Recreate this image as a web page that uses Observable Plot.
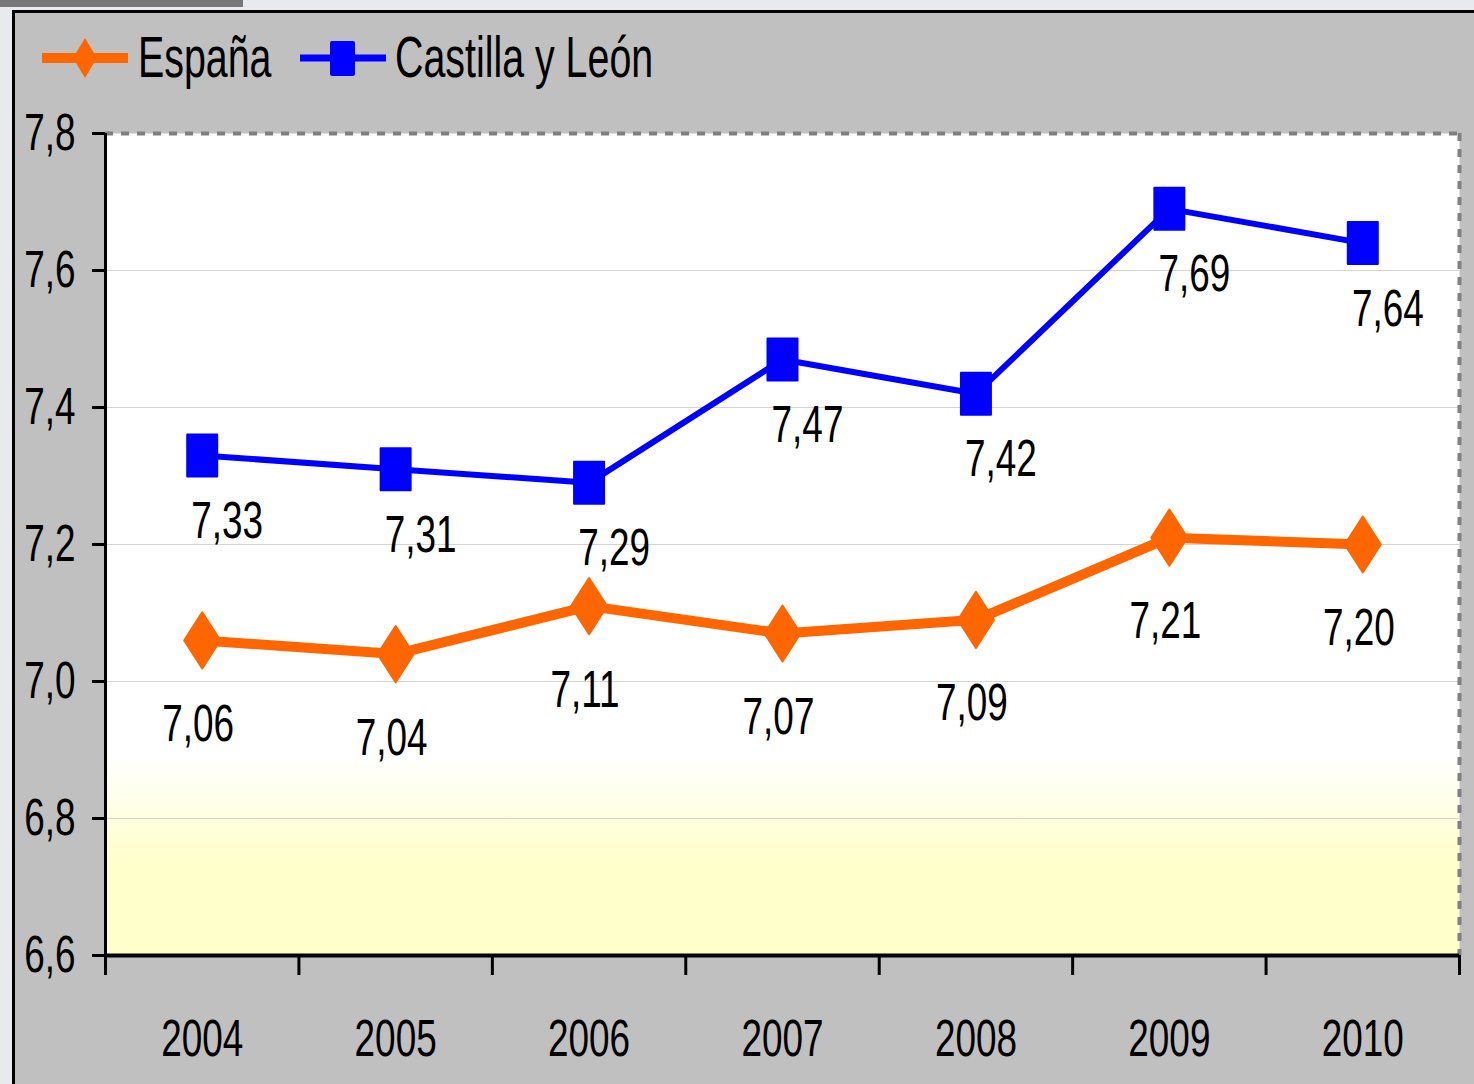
<!DOCTYPE html>
<html>
<head>
<meta charset="utf-8">
<script src="https://cdn.jsdelivr.net/npm/d3@7"></script>
<script src="https://cdn.jsdelivr.net/npm/@observablehq/plot@0.6"></script>
<style>
  html, body { margin: 0; padding: 0; }
  body { background: #e9eaee; width: 1474px; height: 1084px; overflow: hidden; position: relative;
         font-family: "Liberation Sans", Arial, sans-serif; }
  #tab { position: absolute; left: 0; top: 0; width: 243px; height: 7px; background: #777777; }
  #frame { position: absolute; left: 12px; top: 10px; width: 1480px; height: 1100px; background: #c0c0c0;
           border-left: 3px solid #000; border-top: 3px solid #000; }
  #chart { position: absolute; left: 0; top: 0; }
  .lg-swatch { position: absolute; top: 28px; }
  .lg-text { position: absolute; top: 58px; font-size: 48px; line-height: 1; color: #000;
             transform: translateY(-50%) scale(0.82, 1.18); transform-origin: 0 50%; white-space: nowrap; }
</style>
</head>
<body>
<div id="tab"></div>
<div id="frame"></div>
<svg width="0" height="0" style="position:absolute">
  <defs>
    <linearGradient id="bg" x1="0" y1="0" x2="0" y2="1">
      <stop offset="0" stop-color="#ffffff"/>
      <stop offset="0.76" stop-color="#ffffff"/>
      <stop offset="0.88" stop-color="#ffffcc"/>
      <stop offset="1" stop-color="#ffffcc"/>
    </linearGradient>
  </defs>
</svg>
<div id="chart"></div>
<div id="legend"></div>
<script>
// ---- data ----
const years = ["2004", "2005", "2006", "2007", "2008", "2009", "2010"];
const espana = [7.06, 7.04, 7.11, 7.07, 7.09, 7.21, 7.20];
const castilla = [7.33, 7.31, 7.29, 7.47, 7.42, 7.69, 7.64];
const yTicks = [6.6, 6.8, 7.0, 7.2, 7.4, 7.6, 7.8];
const seriesNames = ["España", "Castilla y León"];

// ---- styling ----
const ORANGE = "#ff6600";
const BLUE = "#0000ff";
const FONT = 45;
const fmt1 = d => d.toFixed(1).replace(".", ",");
const fmt2 = d => d.toFixed(2).replace(".", ",");

const tallSquare = { draw(ctx) { const w = 15, h = 21; ctx.moveTo(-w, -h); ctx.lineTo(w, -h); ctx.lineTo(w, h); ctx.lineTo(-w, h); ctx.closePath(); } };
const tallDiamond = { draw(ctx) { const w = 18, h = 28; ctx.moveTo(0, -h); ctx.lineTo(w, 0); ctx.lineTo(0, h); ctx.lineTo(-w, 0); ctx.closePath(); } };

const esp = years.map((y, i) => ({i, v: espana[i]}));
const cyl = years.map((y, i) => ({i, v: castilla[i]}));
const idx = years.map((y, i) => i);
const bounds = [...idx.map(i => i - 0.5), years.length - 0.5];
const lo = d3.min(yTicks), hi = d3.max(yTicks);

const chart = Plot.plot({
  width: 1474,
  height: 1084,
  marginLeft: 105,
  marginRight: 15,
  marginTop: 133,
  marginBottom: 129,
  style: { background: "transparent", overflow: "visible", fontFamily: "'Liberation Sans', Arial, sans-serif" },
  x: { type: "linear", domain: [-0.5, years.length - 0.5], label: null },
  y: { domain: [lo, hi], label: null },
  marks: [
    Plot.frame({ fill: "url(#bg)", stroke: null }),
    Plot.gridY(yTicks.filter(t => t > lo && t < hi), { stroke: "#d4d4d4", strokeOpacity: 1, strokeWidth: 1 }),
    Plot.ruleY([hi], { stroke: "#808080", strokeWidth: 4, strokeDasharray: "8,8" }),
    Plot.ruleX([years.length - 0.5], { stroke: "#808080", strokeWidth: 4, strokeDasharray: "8,8" }),
    Plot.ruleX([-0.5], { stroke: "#000", strokeWidth: 3 }),
    Plot.ruleY([lo], { stroke: "#000", strokeWidth: 4 }),
    Plot.axisY(yTicks, { label: null, tickSize: 13, tickPadding: 17, tickFormat: fmt1, fontSize: FONT, strokeWidth: 3, stroke: "#000", fill: "#000" }),
    Plot.axisX(bounds, { label: null, tickSize: 20, tickFormat: () => "", strokeWidth: 3, stroke: "#000" }),
    Plot.axisX(idx, { label: null, tickSize: 0, tickPadding: 64, tickFormat: i => years[i], fontSize: FONT, fill: "#000" }),
    Plot.line(cyl, { x: "i", y: "v", stroke: BLUE, strokeWidth: 6 }),
    Plot.line(esp, { x: "i", y: "v", stroke: ORANGE, strokeWidth: 10 }),
    Plot.dot(cyl, { x: "i", y: "v", symbol: tallSquare, fill: BLUE, stroke: BLUE, strokeWidth: 2, strokeLinejoin: "round" }),
    Plot.dot(esp, { x: "i", y: "v", symbol: tallDiamond, fill: ORANGE, stroke: ORANGE, strokeWidth: 2, strokeLinejoin: "round" }),
    Plot.text(cyl, { x: "i", y: "v", text: d => fmt2(d.v), dx: 25, dy: 66, fontSize: FONT, fill: "#000" }),
    Plot.text(esp, { x: "i", y: "v", text: d => fmt2(d.v), dx: -4, dy: 84, fontSize: FONT, fill: "#000" })
  ]
});

// condensed, tall lettering like the original (Arial Narrow look)
chart.querySelectorAll("text").forEach(t => {
  const tr = t.getAttribute("transform");
  if (tr) t.setAttribute("transform", tr + " scale(0.82,1.15)");
  else {
    const x = t.getAttribute("x") || 0, y = t.getAttribute("y") || 0;
    t.removeAttribute("x"); t.removeAttribute("y");
    t.setAttribute("transform", `translate(${x},${y}) scale(0.82,1.15)`);
  }
});
document.getElementById("chart").appendChild(chart);

// ---- legend ----
const legend = document.getElementById("legend");
const items = [
  { name: seriesNames[0], color: ORANGE, sw: 10, sym: "diamond", x: 42, tx: 138 },
  { name: seriesNames[1], color: BLUE, sw: 7, sym: "square", x: 300, tx: 395 }
];
items.forEach(it => {
  const s = d3.create("svg").attr("class", "lg-swatch").attr("width", 86).attr("height", 60)
    .style("left", it.x + "px");
  s.append("line").attr("x1", 0).attr("x2", 86).attr("y1", 30).attr("y2", 30)
    .attr("stroke", it.color).attr("stroke-width", it.sw);
  if (it.sym === "diamond") {
    s.append("path").attr("d", "M43,10L55,30L43,50L31,30Z").attr("fill", it.color);
  } else {
    s.append("rect").attr("x", 30).attr("y", 13).attr("width", 25).attr("height", 35).attr("rx", 2).attr("fill", it.color);
  }
  legend.appendChild(s.node());
  const t = document.createElement("div");
  t.className = "lg-text";
  t.style.left = it.tx + "px";
  t.textContent = it.name;
  legend.appendChild(t);
});
</script>
</body>
</html>
